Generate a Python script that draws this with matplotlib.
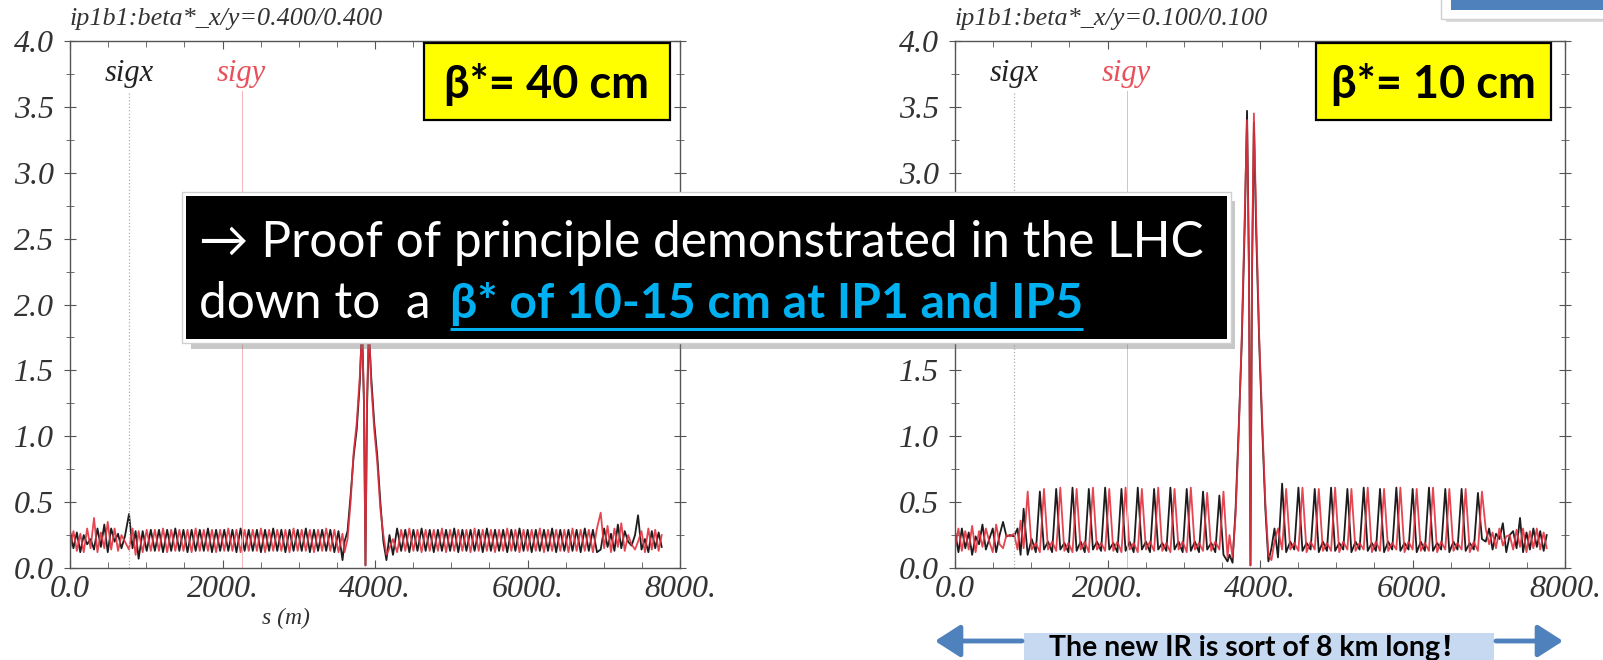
import matplotlib
matplotlib.use("Agg")
import matplotlib.pyplot as plt
from matplotlib.patches import Rectangle
from matplotlib.ticker import MultipleLocator, FuncFormatter

plt.rcParams["font.family"] = ["Liberation Serif", "DejaVu Serif"]
plt.rcParams["font.style"] = "italic"

# ---- lattice positions (m) ----
s_ir1 = [0, 45, 90, 135, 180, 225, 270, 315, 360, 405,
         450, 495, 540, 585, 630, 675, 720, 774, 820, 860]
s_arc1 = [900, 953, 1006, 1060, 1113, 1167, 1220, 1274, 1327, 1381,
          1434, 1488, 1541, 1595, 1648, 1702, 1755, 1809, 1862, 1916,
          1969, 2023, 2076, 2130, 2183, 2237, 2290, 2344, 2397, 2451,
          2504, 2558, 2611, 2665, 2718, 2772, 2825, 2879, 2932, 2986,
          3039, 3093, 3146, 3200, 3253, 3307, 3360, 3414, 3467, 3521,
          3574]
s_trip = [3600, 3640, 3680, 3720, 3760, 3800, 3830, 3855, 3875,
          3895, 3920, 3950, 3990, 4030, 4070, 4110, 4150, 4190]
s_arc2 = [4236, 4290, 4343, 4397, 4450, 4504, 4557, 4611, 4664, 4718,
          4771, 4825, 4878, 4932, 4985, 5039, 5092, 5146, 5199, 5253,
          5306, 5360, 5413, 5467, 5520, 5574, 5627, 5681, 5734, 5788,
          5841, 5895, 5948, 6002, 6055, 6109, 6162, 6216, 6269, 6323,
          6376, 6430, 6483, 6537, 6590, 6644, 6697, 6751, 6804, 6858,
          6911]
s_ir2 = [6960, 7005, 7050, 7095, 7140, 7185, 7230, 7275, 7320, 7365,
         7410, 7450, 7495, 7540, 7585, 7630, 7675, 7720, 7760]

# ---- beta* = 40 cm : sigx / sigy ----
b40_x_ir1 = [0.28, 0.15, 0.27, 0.12, 0.25, 0.18, 0.22, 0.14, 0.30, 0.16,
             0.33, 0.12, 0.30, 0.20, 0.26, 0.15, 0.24, 0.41, 0.15, 0.28]
b40_y_ir1 = [0.14, 0.28, 0.13, 0.26, 0.12, 0.30, 0.15, 0.38, 0.12, 0.27,
             0.15, 0.35, 0.14, 0.30, 0.13, 0.25, 0.20, 0.14, 0.30, 0.10]
b40_x_arc1 = [0.07, 0.28, 0.13, 0.29, 0.13, 0.29, 0.12, 0.29, 0.13, 0.30,
              0.13, 0.29, 0.12, 0.29, 0.13, 0.29, 0.13, 0.30, 0.12, 0.29,
              0.13, 0.29, 0.13, 0.29, 0.12, 0.30, 0.13, 0.29, 0.13, 0.29,
              0.12, 0.29, 0.13, 0.30, 0.13, 0.29, 0.12, 0.29, 0.13, 0.29,
              0.13, 0.30, 0.12, 0.29, 0.13, 0.29, 0.13, 0.29, 0.12, 0.28,
              0.06]
b40_y_arc1 = [0.28, 0.12, 0.29, 0.13, 0.29, 0.13, 0.30, 0.12, 0.29, 0.13,
              0.29, 0.13, 0.29, 0.12, 0.30, 0.13, 0.29, 0.13, 0.29, 0.12,
              0.29, 0.13, 0.30, 0.13, 0.29, 0.12, 0.29, 0.13, 0.29, 0.13,
              0.30, 0.12, 0.29, 0.13, 0.29, 0.13, 0.29, 0.12, 0.30, 0.13,
              0.29, 0.13, 0.29, 0.12, 0.29, 0.13, 0.30, 0.13, 0.29, 0.12,
              0.26]
b40_x_trip = [0.20, 0.28, 0.55, 0.85, 1.05, 1.40, 1.85, 1.25, 0.02,
              1.20, 1.80, 1.45, 1.10, 0.85, 0.50, 0.20, 0.06, 0.25]
b40_y_trip = [0.12, 0.22, 0.50, 0.88, 1.10, 1.45, 1.80, 1.30, 0.02,
              1.28, 1.86, 1.40, 1.05, 0.80, 0.45, 0.25, 0.10, 0.15]
b40_x_arc2 = [0.10, 0.30, 0.13, 0.29, 0.12, 0.29, 0.13, 0.30, 0.13, 0.29,
              0.12, 0.29, 0.13, 0.29, 0.13, 0.30, 0.12, 0.29, 0.13, 0.29,
              0.13, 0.29, 0.12, 0.30, 0.13, 0.29, 0.13, 0.29, 0.12, 0.29,
              0.13, 0.30, 0.13, 0.29, 0.12, 0.29, 0.13, 0.29, 0.13, 0.30,
              0.12, 0.29, 0.13, 0.29, 0.13, 0.29, 0.12, 0.30, 0.13, 0.29,
              0.12]
b40_y_arc2 = [0.22, 0.12, 0.29, 0.13, 0.30, 0.13, 0.29, 0.12, 0.29, 0.13,
              0.29, 0.13, 0.30, 0.12, 0.29, 0.13, 0.29, 0.13, 0.29, 0.12,
              0.30, 0.13, 0.29, 0.13, 0.29, 0.12, 0.29, 0.13, 0.30, 0.13,
              0.29, 0.12, 0.29, 0.13, 0.29, 0.13, 0.30, 0.12, 0.29, 0.13,
              0.29, 0.13, 0.29, 0.12, 0.30, 0.13, 0.29, 0.13, 0.29, 0.12,
              0.30]
b40_x_ir2 = [0.14, 0.30, 0.16, 0.26, 0.13, 0.33, 0.15, 0.28, 0.20, 0.17,
             0.25, 0.40, 0.14, 0.22, 0.12, 0.28, 0.15, 0.27, 0.16]
b40_y_ir2 = [0.42, 0.15, 0.32, 0.12, 0.30, 0.16, 0.34, 0.13, 0.25, 0.18,
             0.14, 0.20, 0.28, 0.12, 0.30, 0.14, 0.29, 0.13, 0.25]

# ---- beta* = 10 cm : sigx / sigy ----
b10_x_ir1 = [0.28, 0.12, 0.30, 0.15, 0.27, 0.10, 0.24, 0.18, 0.33, 0.14,
             0.22, 0.30, 0.12, 0.25, 0.35, 0.24, 0.25, 0.24, 0.30, 0.10]
b10_y_ir1 = [0.15, 0.30, 0.13, 0.28, 0.14, 0.32, 0.12, 0.28, 0.16, 0.30,
             0.20, 0.12, 0.33, 0.18, 0.15, 0.25, 0.24, 0.26, 0.14, 0.36]
b10_x_arc1 = [0.45, 0.10, 0.22, 0.12, 0.58, 0.14, 0.20, 0.12,
              0.60, 0.14, 0.19, 0.12, 0.61, 0.13, 0.20, 0.12,
              0.60, 0.14, 0.20, 0.13, 0.61, 0.14, 0.19, 0.12,
              0.60, 0.13, 0.20, 0.12, 0.61, 0.14, 0.20, 0.12,
              0.60, 0.14, 0.19, 0.13, 0.61, 0.14, 0.20, 0.12,
              0.60, 0.13, 0.20, 0.12, 0.58, 0.14, 0.19, 0.12,
              0.55, 0.10, 0.05]
b10_y_arc1 = [0.15, 0.58, 0.14, 0.19, 0.12, 0.60, 0.14, 0.20,
              0.13, 0.61, 0.13, 0.19, 0.12, 0.60, 0.14, 0.20,
              0.12, 0.61, 0.14, 0.19, 0.13, 0.60, 0.13, 0.20,
              0.12, 0.61, 0.14, 0.19, 0.12, 0.60, 0.14, 0.20,
              0.13, 0.61, 0.13, 0.19, 0.12, 0.60, 0.14, 0.20,
              0.12, 0.61, 0.14, 0.19, 0.13, 0.57, 0.13, 0.20,
              0.14, 0.58, 0.08]
b10_x_trip = [0.10, 0.04, 0.45, 1.05, 1.70, 2.60, 3.47, 2.30, 0.02,
              2.20, 3.38, 2.55, 1.70, 1.05, 0.45, 0.05, 0.15, 0.30]
b10_y_trip = [0.25, 0.08, 0.40, 1.00, 1.75, 2.70, 3.40, 2.20, 0.02,
              2.30, 3.45, 2.65, 1.75, 1.10, 0.50, 0.10, 0.06, 0.20]
b10_x_arc2 = [0.08, 0.64, 0.12, 0.20, 0.14, 0.61, 0.13, 0.19,
              0.14, 0.60, 0.12, 0.20, 0.13, 0.61, 0.13, 0.19,
              0.14, 0.60, 0.12, 0.20, 0.14, 0.61, 0.13, 0.19,
              0.13, 0.60, 0.12, 0.20, 0.14, 0.61, 0.13, 0.19,
              0.14, 0.60, 0.12, 0.20, 0.13, 0.61, 0.13, 0.19,
              0.14, 0.60, 0.12, 0.20, 0.14, 0.60, 0.13, 0.19,
              0.14, 0.57, 0.22]
b10_y_arc2 = [0.30, 0.14, 0.60, 0.14, 0.19, 0.13, 0.61, 0.12,
              0.20, 0.14, 0.60, 0.13, 0.19, 0.13, 0.61, 0.12,
              0.20, 0.14, 0.60, 0.13, 0.19, 0.14, 0.61, 0.12,
              0.20, 0.13, 0.60, 0.13, 0.19, 0.14, 0.61, 0.12,
              0.20, 0.14, 0.60, 0.13, 0.19, 0.13, 0.61, 0.12,
              0.20, 0.14, 0.60, 0.13, 0.19, 0.14, 0.60, 0.12,
              0.20, 0.13, 0.58]
b10_x_ir2 = [0.20, 0.30, 0.14, 0.26, 0.22, 0.34, 0.12, 0.25, 0.28, 0.15,
             0.38, 0.12, 0.27, 0.14, 0.30, 0.16, 0.28, 0.13, 0.25]
b10_y_ir2 = [0.30, 0.18, 0.27, 0.15, 0.30, 0.17, 0.24, 0.25, 0.14, 0.29,
             0.16, 0.30, 0.12, 0.28, 0.15, 0.30, 0.14, 0.27, 0.15]

titles = ["ip1b1:beta*_x/y=0.400/0.400", "ip1b1:beta*_x/y=0.100/0.100"]
box_labels = ["\u03b2*= 40 cm", "\u03b2*= 10 cm"]
legend_s = [770, 2250]   # where the sigx / sigy legend stubs sit
hidden_right = [2.0, 2.5]  # y labels covered by the message box on the right plot

s_all = s_ir1 + s_arc1 + s_trip + s_arc2 + s_ir2
sig = {
    "b40": (b40_x_ir1 + b40_x_arc1 + b40_x_trip + b40_x_arc2 + b40_x_ir2,
            b40_y_ir1 + b40_y_arc1 + b40_y_trip + b40_y_arc2 + b40_y_ir2),
    "b10": (b10_x_ir1 + b10_x_arc1 + b10_x_trip + b10_x_arc2 + b10_x_ir2,
            b10_y_ir1 + b10_y_arc1 + b10_y_trip + b10_y_arc2 + b10_y_ir2),
}

BLACK = "#1c1c1c"
RED = "#e4313f"

fig = plt.figure(figsize=(16.03, 6.6), dpi=100)
W, H = 1603, 660
axes = [fig.add_axes([70 / W, 92 / H, 610 / W, 527 / H]),
        fig.add_axes([955 / W, 92 / H, 610 / W, 527 / H])]
renderer = fig.canvas.get_renderer()


def fit(t, width):
    bb = t.get_window_extent(renderer)
    t.set_fontsize(t.get_fontsize() * width / bb.width)
    return t


def xfmt(v, pos):
    return "0.0" if v == 0 else "%d." % v


def yfmt_left(v, pos):
    return "%.1f" % v


def yfmt_right(v, pos):
    return "" if round(v, 2) in hidden_right else "%.1f" % v


for ax, key, title, yfmt in zip(axes, ["b40", "b10"], titles,
                                 [yfmt_left, yfmt_right]):
    sx, sy = sig[key]
    ax.plot(s_all, sx, color=BLACK, lw=1.3)
    ax.plot(s_all, sy, color=RED, lw=1.3, alpha=0.9)
    ax.set_xlim(0, 8000)
    ax.set_ylim(0, 4)
    ax.xaxis.set_major_locator(MultipleLocator(2000))
    ax.xaxis.set_minor_locator(MultipleLocator(500))
    ax.yaxis.set_major_locator(MultipleLocator(0.5))
    ax.yaxis.set_minor_locator(MultipleLocator(0.25))
    ax.xaxis.set_major_formatter(FuncFormatter(xfmt))
    ax.yaxis.set_major_formatter(FuncFormatter(yfmt))
    ax.tick_params(axis="x", which="both", direction="in", top=True,
                   labelsize=23, labelcolor="#333333", color="#555555", pad=5)
    ax.tick_params(axis="x", which="major", length=6)
    ax.tick_params(axis="x", which="minor", length=4)
    ax.tick_params(axis="y", which="both", direction="inout", right=True,
                   labelsize=23, labelcolor="#333333", color="#555555", pad=7)
    ax.tick_params(axis="y", which="major", length=9)
    ax.tick_params(axis="y", which="minor", length=6)
    for sp in ax.spines.values():
        sp.set_color("#555555")
        sp.set_linewidth(1.0)
    tt = ax.text(0.0, 1.02, title, transform=ax.transAxes, fontsize=18,
                 color="#333333", ha="left", va="bottom")
    fit(tt, 312)
    ax.text(legend_s[0], 3.70, "sigx", fontsize=22, color="#222222",
            ha="center", va="baseline")
    ax.text(legend_s[1], 3.70, "sigy", fontsize=22, color="#e8505a",
            ha="center", va="baseline")
    ax.axvline(legend_s[0], ymax=0.905, color="#b0b0b0", lw=0.9, ls=":")
    ax.axvline(legend_s[1], ymax=0.905, color="#f3b5b9", lw=0.7)

fig.text(286 / W, 1 - 618 / H, "s (m)", fontsize=17, color="#333333",
         ha="center", va="center")

# ---- slide overlays (pixel coordinates) ----
ov = fig.add_axes([0, 0, 1, 1], zorder=10)
ov.set_xlim(0, W)
ov.set_ylim(H, 0)
ov.axis("off")
ov.patch.set_alpha(0)
SANS = ["Lato", "DejaVu Sans"]

# top-right corner element
ov.add_patch(Rectangle((1446, -6), 170, 28, fc="#999999", ec="none", alpha=0.35))
ov.add_patch(Rectangle((1441, -6), 170, 25, fc="white", ec="#cfcfcf", lw=1))
ov.add_patch(Rectangle((1451, -6), 160, 16, fc="#4F81BD", ec="none"))

# yellow beta* boxes
for (bx, bw), lab in zip([(424, 246), (1316, 235)], box_labels):
    ov.add_patch(Rectangle((bx, 43), bw, 77, fc="#FFFF00", ec="black", lw=1.6))
    t = ov.text(bx + bw / 2, 84, lab, family=SANS, style="normal",
                weight="bold", fontsize=30, ha="center", va="center")
    fit(t, 205)

# black message box
ov.add_patch(Rectangle((191, 201), 1044, 148, fc="#777777", ec="none", alpha=0.4))
ov.add_patch(Rectangle((182, 192), 1049, 151, fc="white", ec="#d0d0d0", lw=1))
ov.add_patch(Rectangle((186, 196), 1041, 143, fc="black", ec="none"))
t1 = ov.text(199, 257, "\u2192 Proof of principle demonstrated in the LHC",
             family=SANS, style="normal", color="white", fontsize=33,
             ha="left", va="baseline")
fit(t1, 1007)
t2 = ov.text(199, 318, "down to  a", family=SANS, style="normal",
             color="white", fontsize=t1.get_fontsize(), ha="left", va="baseline")
t3 = ov.text(450, 318, "\u03b2* of 10-15 cm at IP1 and IP5", family=SANS,
             style="normal", weight="bold", color="#00B0F0", fontsize=30,
             ha="left", va="baseline")
fit(t3, 632)
w3 = t3.get_window_extent(renderer).width
ov.plot([450, 450 + w3], [329, 329], color="#00B0F0", lw=2.2,
        solid_capstyle="butt")

# bottom note with arrows
ov.add_patch(Rectangle((1024, 633), 470, 30, fc="#C6D9F1", ec="none"))
tn = ov.text(1259, 648, "The new IR is sort of 8 km long\uff01",
             family=["Lato", "Noto Sans CJK SC"], style="normal",
             weight="bold", fontsize=15, ha="center", va="center")
fit(tn, 422)
arrow = dict(arrowstyle="-|>,head_length=0.7,head_width=0.45",
             color="#4F81BD", lw=3.5, shrinkA=0, shrinkB=0, mutation_scale=22)
ov.annotate("", xy=(935, 641), xytext=(1022, 641), arrowprops=arrow)
ov.annotate("", xy=(1563, 641), xytext=(1496, 641), arrowprops=arrow)

fig.savefig("out.png", dpi=100, facecolor="white")
